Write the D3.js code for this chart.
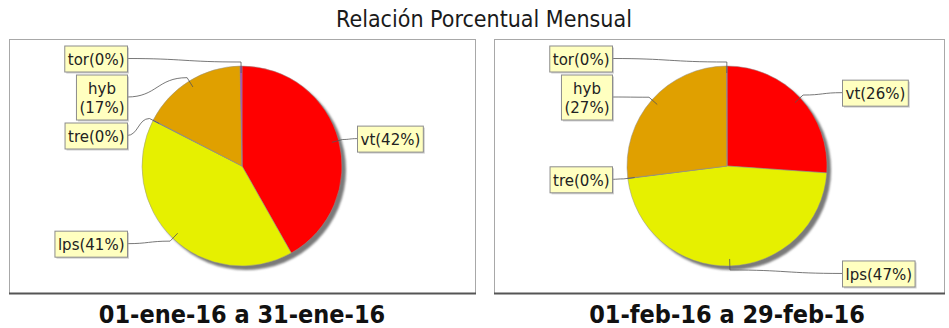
<!DOCTYPE html>
<html>
<head>
<meta charset="utf-8">
<script src="https://cdn.jsdelivr.net/npm/d3@7/dist/d3.min.js"></script>
<style>
  html, body { margin: 0; padding: 0; background: #fff; }
  svg { display: block; }
</style>
</head>
<body>
<svg id="chart" width="949" height="328"></svg>
<script>
// Monthly share of each category, in percent
const chartTitle = "Relación Porcentual Mensual";
const categories = ["vt", "lps", "tre", "hyb", "tor"];
const januaryValues = [41.8, 40.7, 0.1, 17.1, 0.3];
const februaryValues = [26.1, 46.9, 0.05, 26.9, 0.05];
const periodLabels = ["01-ene-16 a 31-ene-16", "01-feb-16 a 29-feb-16"];
const sliceColors = ["#ff0000", "#e6f000", "#3060c0", "#e0a000", "#b040c0"];

const W = 949, H = 328;
const svg = d3.select("#chart");

const defs = svg.append("defs");
defs.append("filter").attr("id", "soft")
  .attr("x", "-10%").attr("y", "-10%").attr("width", "120%").attr("height", "120%")
  .append("feGaussianBlur").attr("stdDeviation", 1.2);

const color = d3.scaleOrdinal().domain(categories).range(sliceColors);

svg.append("text")
  .attr("x", 484).attr("y", 27)
  .attr("text-anchor", "middle")
  .style("font-family", "'DejaVu Sans Condensed', 'DejaVu Sans', sans-serif")
  .style("font-stretch", "condensed")
  .style("font-size", "23px")
  .style("fill", "#1a1a1a")
  .text(chartTitle);

const panels = [
  { values: januaryValues, period: periodLabels[0], box: [9, 39, 475, 293], cx: 242, cy: 166 },
  { values: februaryValues, period: periodLabels[1], box: [494, 39, 944, 293], cx: 727, cy: 166 }
];

const R = 100;
const labelFont = "'DejaVu Sans', sans-serif";
const labelSize = 15;
const lineH = 19, padX = 3, padY = 3.5, labelGap = 3, maxLabelWidth = 70;

// text measuring helper
const measurer = svg.append("text")
  .style("font-family", labelFont).style("font-size", labelSize + "px")
  .attr("visibility", "hidden");
function textWidth(s) { measurer.text(s); return measurer.node().getComputedTextLength(); }

const pie = d3.pie().sort(null).value(d => d.value).startAngle(0).endAngle(2 * Math.PI);
const arc = d3.arc().innerRadius(0).outerRadius(R);
const polar = (cx, cy, r, a) => [cx + r * Math.sin(a), cy - r * Math.cos(a)];

panels.forEach(p => {
  const [x0, y0, x1, y1] = p.box;
  const g = svg.append("g");

  // panel frame
  g.append("rect")
    .attr("x", x0 + 0.5).attr("y", y0 + 0.5)
    .attr("width", x1 - x0).attr("height", y1 - y0)
    .attr("fill", "#fff").attr("stroke", "#a8a8a8").attr("stroke-width", 1);
  g.append("line")
    .attr("x1", x0).attr("x2", x1 + 1).attr("y1", y1 + 0.5).attr("y2", y1 + 0.5)
    .attr("stroke", "#555").attr("stroke-width", 1.8);

  const data = categories.map((c, i) => ({ name: c, value: p.values[i] }));
  const total = d3.sum(data, d => d.value);
  const arcs = pie(data);

  // drop shadow of the pie
  g.append("circle")
    .attr("cx", p.cx + 4).attr("cy", p.cy + 4).attr("r", R)
    .attr("fill", "#7a7a7a").attr("filter", "url(#soft)");

  const slices = g.append("g").attr("transform", `translate(${p.cx},${p.cy})`);
  slices.selectAll("path").data(arcs).join("path")
    .attr("d", arc)
    .attr("fill", d => color(d.data.name))
    .attr("stroke", "#909090").attr("stroke-width", 0.5);

  // labels: "name(pct%)", wrapped before "(" when too wide
  const labels = arcs.map(a => {
    const mid = (a.startAngle + a.endAngle) / 2;
    const pct = Math.round(a.data.value / total * 100);
    const full = `${a.data.name}(${pct}%)`;
    const lines = textWidth(full) > maxLabelWidth ? [a.data.name, `(${pct}%)`] : [full];
    const w = d3.max(lines, textWidth) + 2 * padX;
    const h = lines.length * lineH + 2 * padY;
    const idealY = p.cy - (R * 1.075) * Math.cos(mid);
    return { a, mid, lines, w, h, idealY, side: Math.sin(mid) >= 0 ? 1 : -1 };
  });

  // stack labels on each side without overlap
  [1, -1].forEach(side => {
    const list = labels.filter(l => l.side === side).sort((m, n) => m.idealY - n.idealY);
    let prevBottom = -Infinity;
    list.forEach(l => {
      let top = l.idealY - l.h / 2;
      if (top < prevBottom + labelGap) top = prevBottom + labelGap;
      l.top = top;
      prevBottom = top + l.h;
    });
    const limit = y1 - 4;
    if (list.length && prevBottom > limit) {
      let nextTop = limit;
      for (let i = list.length - 1; i >= 0; i--) {
        const l = list[i];
        if (l.top + l.h > nextTop - (i === list.length - 1 ? 0 : labelGap)) {
          l.top = nextTop - (i === list.length - 1 ? 0 : labelGap) - l.h;
        }
        nextTop = l.top;
      }
    }
    list.forEach(l => {
      l.left = side > 0 ? p.cx + R + 15 : p.cx - R - 15 - l.w;
    });
  });

  // connector curves
  const linkG = g.append("g");
  labels.forEach(l => {
    const anchor = polar(p.cx, p.cy, R * 0.93, l.mid);
    const elbow = polar(p.cx, p.cy, R * 1.04, l.mid);
    const tx = l.side > 0 ? l.left : l.left + l.w;
    const ty = l.top + l.h / 2;
    const mx = (elbow[0] + tx) / 2;
    const path = d3.path();
    path.moveTo(anchor[0], anchor[1]);
    path.lineTo(elbow[0], elbow[1]);
    path.bezierCurveTo(mx, elbow[1], mx, ty, tx, ty);
    linkG.append("path").attr("d", path.toString())
      .attr("fill", "none").attr("stroke", "#555").attr("stroke-width", 0.8);
  });

  // label boxes
  const lg = g.append("g");
  labels.forEach(l => {
    lg.append("rect")
      .attr("x", l.left + 2).attr("y", l.top + 2).attr("width", l.w).attr("height", l.h)
      .attr("fill", "#979797").attr("fill-opacity", 0.45);
    lg.append("rect")
      .attr("x", l.left + 0.5).attr("y", l.top + 0.5).attr("width", l.w).attr("height", l.h)
      .attr("fill", "#ffffc0").attr("stroke", "#8c8c8c").attr("stroke-width", 1);
    l.lines.forEach((t, i) => {
      lg.append("text")
        .attr("x", l.left + l.w / 2 + 0.5)
        .attr("y", l.top + padY + i * lineH + lineH / 2 + 1)
        .attr("dy", "0.35em")
        .attr("text-anchor", "middle")
        .style("font-family", labelFont).style("font-size", labelSize + "px")
        .style("fill", "#222")
        .text(t);
    });
  });

  // period caption
  svg.append("text")
    .attr("x", p.cx).attr("y", 323)
    .attr("text-anchor", "middle")
    .style("font-family", "'DejaVu Sans Condensed', 'DejaVu Sans', sans-serif")
    .style("font-stretch", "condensed")
    .style("font-weight", "bold")
    .style("font-size", "25px")
    .style("fill", "#111")
    .text(p.period);
});
measurer.remove();
</script>
</body>
</html>
